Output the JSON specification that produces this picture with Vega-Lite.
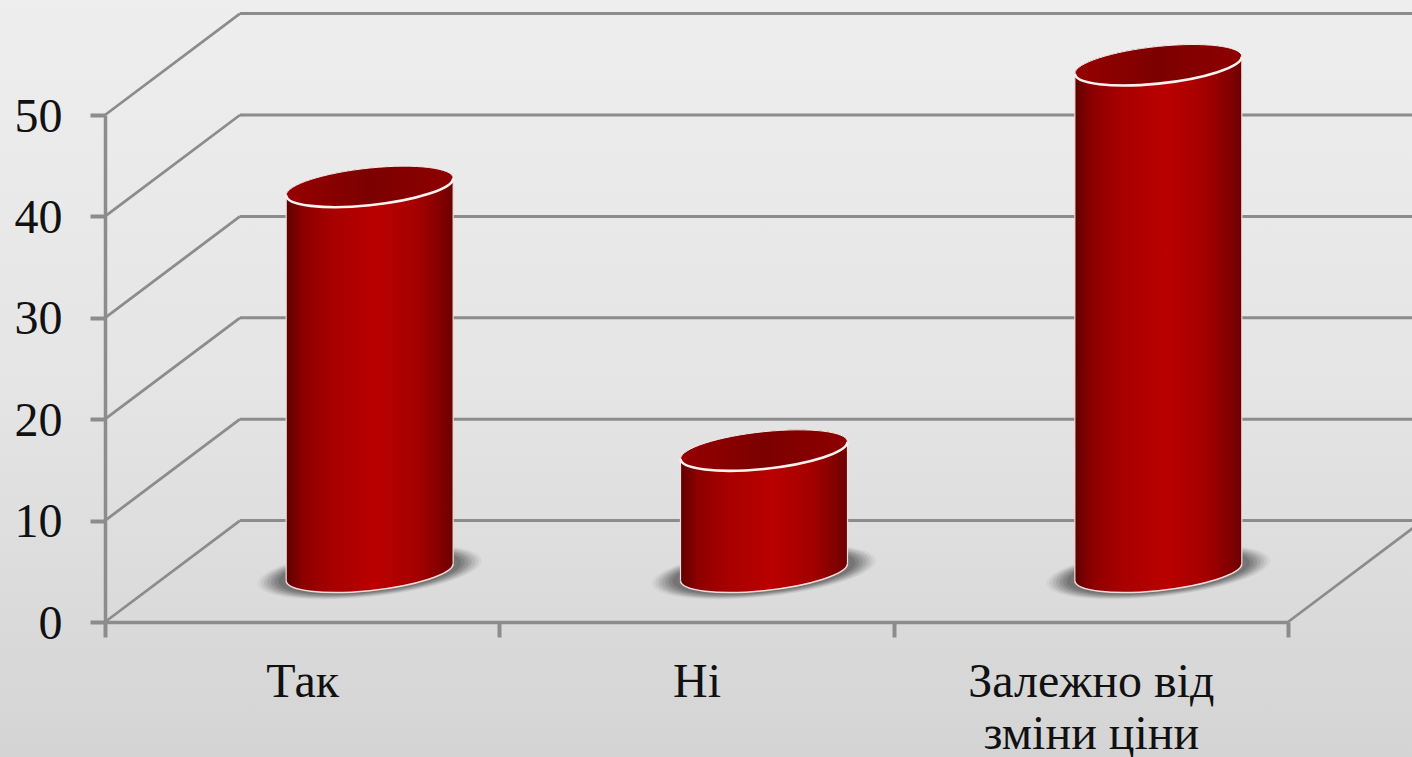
{
"$schema":"https://vega.github.io/schema/vega-lite/v6.json",
"autosize":"none",
"padding":{"left":105,"top":115,"right":124,"bottom":135},
"width":1183,"height":507,
"background":"#e2e2e2",
"config":{"view":{"stroke":null}},
"datasets":{"grid":[{"v":0,"back":10},{"v":10,"back":20},{"v":20,"back":30},{"v":30,"back":40},{"v":40,"back":50},{"v":50,"back":60}]},
"data":{"values":[{"category":"Так","value":38},{"category":"Ні","value":12},{"category":"Залежно від зміни ціни","value":50}]},
"resolve":{"scale":{"x":"independent"},"axis":{"y":"independent"}},
"layer":[
{"data":{"values":[{"panel":"background"}]},
 "mark":{"type":"point","filled":true,"size":4,"opacity":1,"shape":"M-105,-622H1307V135H-105Z",
  "fill":{"gradient":"linear","x1":0,"y1":0,"x2":0,"y2":1,"stops":[{"offset":0,"color":"#eeeeee"},{"offset":0.5,"color":"#e5e5e5"},{"offset":1,"color":"#d4d4d4"}]}},
 "encoding":{"x":{"datum":0,"type":"quantitative","scale":{"domain":[0,3]},"axis":null},"y":{"datum":0,"type":"quantitative","scale":{"domain":[0,50],"nice":false},"axis":null}}},
{"data":{"name":"grid"},
 "mark":{"type":"rule","color":"#8c8c8c","strokeWidth":3},
 "encoding":{"x":{"datum":0.3423,"type":"quantitative","scale":{"domain":[0,3]},"axis":null},"x2":{"datum":3.3423},"y":{"field":"back","type":"quantitative","scale":{"domain":[0,50],"nice":false},"axis":null}}},
{"data":{"name":"grid"},
 "mark":{"type":"rule","color":"#8c8c8c","strokeWidth":2.8},
 "encoding":{"x":{"datum":0,"type":"quantitative","scale":{"domain":[0,3]},"axis":null},"x2":{"datum":0.3423},"y":{"field":"v","type":"quantitative","scale":{"domain":[0,50],"nice":false},"axis":null},"y2":{"field":"back"}}},
{"data":{"values":[{"v":0,"back":10}]},
 "mark":{"type":"rule","color":"#8c8c8c","strokeWidth":2.8},
 "encoding":{"x":{"datum":3,"type":"quantitative","scale":{"domain":[0,3]},"axis":null},"x2":{"datum":3.3423},"y":{"field":"v","type":"quantitative","scale":{"domain":[0,50],"nice":false},"axis":null},"y2":{"field":"back"}}},
{"mark":{"type":"point","filled":true,"opacity":0.05,"size":7.2,"xOffset":67.5,"yOffset":-50,"fill":"#333333",
  "shape":"M83.5,-8.5 C83.5,1.8 46.1,13.96 0,18.65 C-46.1,23.34 -83.5,18.8 -83.5,8.5 C-83.5,-1.8 -46.1,-13.96 0,-18.65 C46.1,-23.34 83.5,-18.8 83.5,-8.5 Z"},
 "encoding":{"x":{"field":"category","type":"nominal","sort":null,"scale":{"type":"band","paddingInner":0,"paddingOuter":0},"axis":null},"y":{"datum":0,"type":"quantitative","scale":{"domain":[0,50],"nice":false},"axis":null}}},
{"mark":{"type":"point","filled":true,"opacity":0.08,"size":6.8,"xOffset":67.5,"yOffset":-50,"fill":"#333333",
  "shape":"M83.5,-8.5 C83.5,1.8 46.1,13.96 0,18.65 C-46.1,23.34 -83.5,18.8 -83.5,8.5 C-83.5,-1.8 -46.1,-13.96 0,-18.65 C46.1,-23.34 83.5,-18.8 83.5,-8.5 Z"},
 "encoding":{"x":{"field":"category","type":"nominal","sort":null,"scale":{"type":"band","paddingInner":0,"paddingOuter":0},"axis":null},"y":{"datum":0,"type":"quantitative","scale":{"domain":[0,50],"nice":false},"axis":null}}},
{"mark":{"type":"point","filled":true,"opacity":0.1,"size":6.4,"xOffset":67.5,"yOffset":-50,"fill":"#333333",
  "shape":"M83.5,-8.5 C83.5,1.8 46.1,13.96 0,18.65 C-46.1,23.34 -83.5,18.8 -83.5,8.5 C-83.5,-1.8 -46.1,-13.96 0,-18.65 C46.1,-23.34 83.5,-18.8 83.5,-8.5 Z"},
 "encoding":{"x":{"field":"category","type":"nominal","sort":null,"scale":{"type":"band","paddingInner":0,"paddingOuter":0},"axis":null},"y":{"datum":0,"type":"quantitative","scale":{"domain":[0,50],"nice":false},"axis":null}}},
{"mark":{"type":"point","filled":true,"opacity":0.12,"size":6.0,"xOffset":67.5,"yOffset":-50,"fill":"#333333",
  "shape":"M83.5,-8.5 C83.5,1.8 46.1,13.96 0,18.65 C-46.1,23.34 -83.5,18.8 -83.5,8.5 C-83.5,-1.8 -46.1,-13.96 0,-18.65 C46.1,-23.34 83.5,-18.8 83.5,-8.5 Z"},
 "encoding":{"x":{"field":"category","type":"nominal","sort":null,"scale":{"type":"band","paddingInner":0,"paddingOuter":0},"axis":null},"y":{"datum":0,"type":"quantitative","scale":{"domain":[0,50],"nice":false},"axis":null}}},
{"mark":{"type":"point","filled":true,"opacity":0.14,"size":5.6,"xOffset":67.5,"yOffset":-50,"fill":"#333333",
  "shape":"M83.5,-8.5 C83.5,1.8 46.1,13.96 0,18.65 C-46.1,23.34 -83.5,18.8 -83.5,8.5 C-83.5,-1.8 -46.1,-13.96 0,-18.65 C46.1,-23.34 83.5,-18.8 83.5,-8.5 Z"},
 "encoding":{"x":{"field":"category","type":"nominal","sort":null,"scale":{"type":"band","paddingInner":0,"paddingOuter":0},"axis":null},"y":{"datum":0,"type":"quantitative","scale":{"domain":[0,50],"nice":false},"axis":null}}},
{"mark":{"type":"point","filled":true,"opacity":0.16,"size":5.2,"xOffset":67.5,"yOffset":-50,"fill":"#333333",
  "shape":"M83.5,-8.5 C83.5,1.8 46.1,13.96 0,18.65 C-46.1,23.34 -83.5,18.8 -83.5,8.5 C-83.5,-1.8 -46.1,-13.96 0,-18.65 C46.1,-23.34 83.5,-18.8 83.5,-8.5 Z"},
 "encoding":{"x":{"field":"category","type":"nominal","sort":null,"scale":{"type":"band","paddingInner":0,"paddingOuter":0},"axis":null},"y":{"datum":0,"type":"quantitative","scale":{"domain":[0,50],"nice":false},"axis":null}}},
{"mark":{"type":"point","filled":true,"opacity":0.18,"size":4.8,"xOffset":67.5,"yOffset":-50,"fill":"#333333",
  "shape":"M83.5,-8.5 C83.5,1.8 46.1,13.96 0,18.65 C-46.1,23.34 -83.5,18.8 -83.5,8.5 C-83.5,-1.8 -46.1,-13.96 0,-18.65 C46.1,-23.34 83.5,-18.8 83.5,-8.5 Z"},
 "encoding":{"x":{"field":"category","type":"nominal","sort":null,"scale":{"type":"band","paddingInner":0,"paddingOuter":0},"axis":null},"y":{"datum":0,"type":"quantitative","scale":{"domain":[0,50],"nice":false},"axis":null}}},
{"mark":{"type":"bar","width":167,"xOffset":67.5,"yOffset":-40,"y2Offset":-60,
  "fill":{"gradient":"linear","x1":0,"y1":0,"x2":1,"y2":0,"stops":[{"offset":0,"color":"#600000"},{"offset":0.1,"color":"#8c0000"},{"offset":0.28,"color":"#a80000"},{"offset":0.55,"color":"#ba0000"},{"offset":0.8,"color":"#a20000"},{"offset":0.95,"color":"#7c0000"},{"offset":1,"color":"#6a0000"}]}},
 "encoding":{"x":{"field":"category","type":"nominal","sort":null,"scale":{"type":"band","paddingInner":0,"paddingOuter":0},
   "axis":{"title":null,"tickBand":"extent","labelAngle":0,"labelFont":"Liberation Serif","labelFontSize":48,"labelColor":"#111111","labelLineHeight":52,"labelPadding":21,"labelLimit":0,"labelBaseline":"top","domainColor":"#8c8c8c","domainWidth":3.5,"tickColor":"#8c8c8c","tickWidth":4,"tickSize":15,"zindex":1,
   "labelExpr":"datum.label == 'Залежно від зміни ціни' ? ['Залежно від','зміни ціни'] : datum.label"}},
  "y":{"field":"value","type":"quantitative","scale":{"domain":[0,50],"nice":false},"axis":{"title":null,"values":[0,10,20,30,40,50],"grid":false,"orient":"left","labelFont":"Liberation Serif","labelFontSize":48,"labelColor":"#111111","labelPadding":28,"labelOffset":2,"domainColor":"#8c8c8c","domainWidth":3.5,"tickColor":"#8c8c8c","tickWidth":4,"tickSize":15,"zindex":1}},
  "y2":{"datum":0}}},
{"mark":{"type":"point","filled":true,"opacity":1,"size":4,"xOffset":67.5,"yOffset":-50,
  "shape":"M-83.5,-12 L-83.5,8.5 C-83.5,18.8 -46.1,23.34 0,18.65 C46.1,13.96 83.5,1.8 83.5,-8.5 L83.5,-12 Z",
  "fill":{"gradient":"linear","x1":0,"y1":0,"x2":1,"y2":0,"stops":[{"offset":0,"color":"#600000"},{"offset":0.1,"color":"#8c0000"},{"offset":0.28,"color":"#a80000"},{"offset":0.55,"color":"#ba0000"},{"offset":0.8,"color":"#a20000"},{"offset":0.95,"color":"#7c0000"},{"offset":1,"color":"#6a0000"}]}},
 "encoding":{"x":{"field":"category","type":"nominal","sort":null,"scale":{"type":"band","paddingInner":0,"paddingOuter":0},"axis":null},"y":{"datum":0,"type":"quantitative","scale":{"domain":[0,50],"nice":false},"axis":null}}},
{"mark":{"type":"point","filled":false,"opacity":1,"size":4,"xOffset":67.5,"yOffset":-50,"stroke":"#f6dcdc","strokeWidth":1.5,
  "shape":"M-83.5,8.5 C-83.5,18.8 -46.1,23.34 0,18.65 C46.1,13.96 83.5,1.8 83.5,-8.5"},
 "encoding":{"x":{"field":"category","type":"nominal","sort":null,"scale":{"type":"band","paddingInner":0,"paddingOuter":0},"axis":null},"y":{"datum":0,"type":"quantitative","scale":{"domain":[0,50],"nice":false},"axis":null}}},
{"mark":{"type":"point","filled":true,"opacity":1,"size":4,"xOffset":67.5,"yOffset":-50,
  "shape":"M83.5,-8.5 L83.5,12 L-83.5,12 L-83.5,8.5 C-83.5,-1.8 -46.1,-13.96 0,-18.65 C46.1,-23.34 83.5,-18.8 83.5,-8.5 Z",
  "fill":{"gradient":"linear","x1":0,"y1":0,"x2":1,"y2":0,"stops":[{"offset":0,"color":"#600000"},{"offset":0.1,"color":"#8c0000"},{"offset":0.28,"color":"#a80000"},{"offset":0.55,"color":"#ba0000"},{"offset":0.8,"color":"#a20000"},{"offset":0.95,"color":"#7c0000"},{"offset":1,"color":"#6a0000"}]}},
 "encoding":{"x":{"field":"category","type":"nominal","sort":null,"scale":{"type":"band","paddingInner":0,"paddingOuter":0},"axis":null},"y":{"field":"value","type":"quantitative","scale":{"domain":[0,50],"nice":false},"axis":null}}},
{"mark":{"type":"rule","xOffset":-16,"yOffset":-41.5,"y2Offset":-41.5,"color":"#f4e0e0","strokeWidth":1.2},
 "encoding":{"x":{"field":"category","type":"nominal","sort":null,"scale":{"type":"band","paddingInner":0,"paddingOuter":0},"axis":null},"y":{"field":"value","type":"quantitative","scale":{"domain":[0,50],"nice":false},"axis":null},"y2":{"datum":0}}},
{"mark":{"type":"rule","xOffset":151,"yOffset":-58.5,"y2Offset":-58.5,"color":"#f4e0e0","strokeWidth":1.2},
 "encoding":{"x":{"field":"category","type":"nominal","sort":null,"scale":{"type":"band","paddingInner":0,"paddingOuter":0},"axis":null},"y":{"field":"value","type":"quantitative","scale":{"domain":[0,50],"nice":false},"axis":null},"y2":{"datum":0}}},
{"mark":{"type":"point","filled":true,"opacity":1,"size":4,"xOffset":67.5,"yOffset":-50,"stroke":"#f7eeee","strokeWidth":1,
  "shape":"M83.5,-8.5 C83.5,1.8 46.1,13.96 0,18.65 C-46.1,23.34 -83.5,18.8 -83.5,8.5 C-83.5,-1.8 -46.1,-13.96 0,-18.65 C46.1,-23.34 83.5,-18.8 83.5,-8.5 Z",
  "fill":{"gradient":"linear","x1":0,"y1":0,"x2":1,"y2":0,"stops":[{"offset":0,"color":"#960000"},{"offset":0.5,"color":"#7c0000"},{"offset":1,"color":"#8e0000"}]}},
 "encoding":{"x":{"field":"category","type":"nominal","sort":null,"scale":{"type":"band","paddingInner":0,"paddingOuter":0},"axis":null},"y":{"field":"value","type":"quantitative","scale":{"domain":[0,50],"nice":false},"axis":null}}},
{"mark":{"type":"point","filled":false,"opacity":1,"size":4,"xOffset":67.5,"yOffset":-50,"stroke":"#fbf3f0","strokeWidth":2.6,
  "shape":"M-83.5,8.5 C-83.5,18.8 -46.1,23.34 0,18.65 C46.1,13.96 83.5,1.8 83.5,-8.5"},
 "encoding":{"x":{"field":"category","type":"nominal","sort":null,"scale":{"type":"band","paddingInner":0,"paddingOuter":0},"axis":null},"y":{"field":"value","type":"quantitative","scale":{"domain":[0,50],"nice":false},"axis":null}}}
]}
